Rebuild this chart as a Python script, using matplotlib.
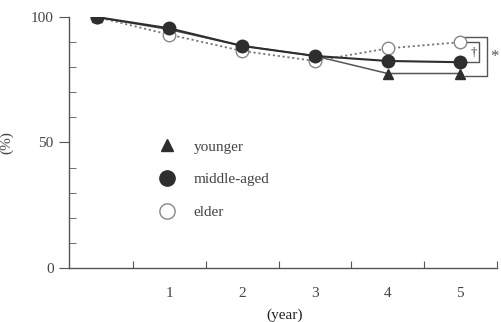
import matplotlib
matplotlib.use("Agg")
import matplotlib.pyplot as plt
from matplotlib.lines import Line2D

years = [0, 1, 2, 3, 4, 5]
younger = [100, 95, 88.5, 84.5, 77.5, 77.5]
middle_aged = [100, 95.5, 88.5, 84.5, 82.5, 82]
elder = [100, 93, 86.5, 82.5, 87.5, 90]
xtick_labels = ["1", "2", "3", "4", "5"]
ytick_labels = ["0", "50", "100"]

plt.rcParams['font.family'] = ['Liberation Serif', 'DejaVu Serif']

fig = plt.figure(figsize=(5.02, 3.22), dpi=100)
ax = fig.add_axes([0.1375, 0.168, 0.852, 0.779])

dark = "#2e2e2e"
gray = "#555555"
lgray = "#777777"

ax.plot(years, younger, color=gray, lw=1.1, marker="^", ms=7, mfc=dark, mec=dark, zorder=3)
ax.plot(years, elder, color=lgray, lw=1.3, ls=(0, (1.2, 1.5)), marker="o", ms=9,
        mfc="white", mec="#888888", mew=1.0, zorder=3)
ax.plot(years, middle_aged, color=dark, lw=1.5, marker="o", ms=9, mfc=dark, mec=dark, zorder=4)

# significance brackets
ax.plot([5.05, 5.26, 5.26, 5.05], [elder[5], elder[5], middle_aged[5], middle_aged[5]],
        color=gray, lw=1.0)
ax.plot([5.07, 5.36, 5.36, 5.07], [92, 92, younger[5] - 1, younger[5] - 1],
        color=gray, lw=1.0)
ax.text(5.19, 86, "†", fontsize=9, ha="center", va="center", color=dark)
ax.text(5.47, 84, "*", fontsize=12, ha="center", va="center", color=gray)

ax.set_xlim(-0.38, 5.5)
ax.set_ylim(0, 100)
ax.spines["top"].set_visible(False)
ax.spines["right"].set_visible(False)
for s in ("left", "bottom"):
    ax.spines[s].set_color(gray)
    ax.spines[s].set_linewidth(1.0)

ax.set_xticks([0.5, 1.5, 2.5, 3.5, 4.5, 5.5])
ax.set_xticklabels([])
ax.set_xticks([1, 2, 3, 4, 5], minor=True)
ax.set_xticklabels(xtick_labels, minor=True)
ax.tick_params(axis="x", which="major", direction="in", length=5, color=gray)
ax.tick_params(axis="x", which="minor", length=0, pad=14, labelsize=11, labelcolor="#444444")

ax.set_yticks([0, 50, 100])
ax.set_yticklabels(ytick_labels)
ax.set_yticks(range(10, 100, 10), minor=True)
ax.tick_params(axis="y", which="major", direction="out", length=7, color=gray,
               labelsize=11, labelcolor="#444444", pad=4)
ax.tick_params(axis="y", which="minor", direction="in", length=5, color=gray)

ax.set_xlabel("(year)", fontsize=11, color="#222222")
ax.xaxis.set_label_coords(0.505, -0.16)
ax.set_ylabel("(%)", fontsize=11, color="#444444")
ax.yaxis.set_label_coords(-0.13, 0.5)

handles = [
    Line2D([], [], ls="none", marker="^", ms=9, mfc=dark, mec=dark),
    Line2D([], [], ls="none", marker="o", ms=11, mfc=dark, mec=dark),
    Line2D([], [], ls="none", marker="o", ms=11, mfc="white", mec="#888888"),
]
ax.legend(handles, ["younger", "middle-aged", "elder"], loc="upper left",
          bbox_to_anchor=(0.17, 0.565), frameon=False, fontsize=11,
          labelspacing=1.25, handletextpad=1.0, handlelength=1.5,
          labelcolor="#444444")

fig.savefig("out.png", dpi=100)
